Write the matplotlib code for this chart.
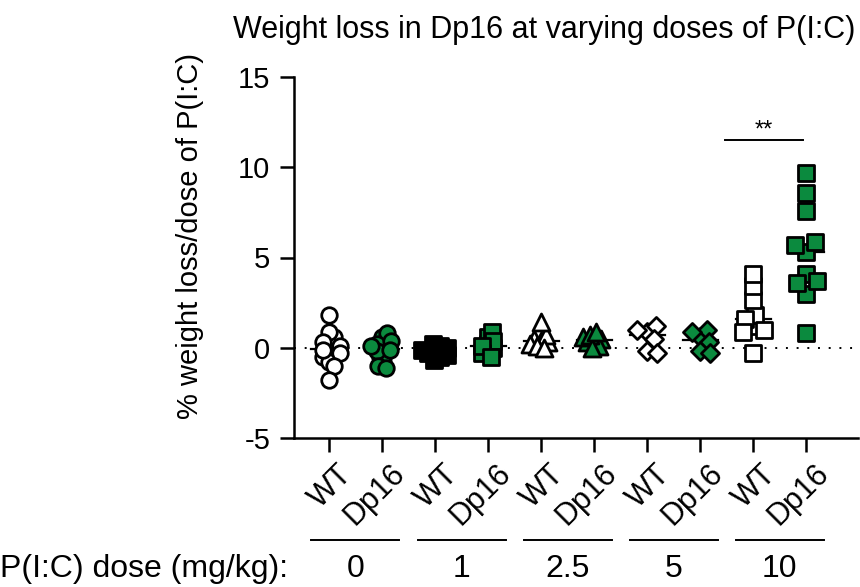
import numpy as np
import matplotlib
matplotlib.use("Agg")
import matplotlib.pyplot as plt
import matplotlib.transforms as mtransforms

plt.rcParams['font.family'] = ['Liberation Sans', 'DejaVu Sans']

# ---------------- data ----------------
groups = ["WT", "Dp16", "WT", "Dp16", "WT", "Dp16", "WT", "Dp16", "WT", "Dp16"]
doses = ["0", "1", "2.5", "5", "10"]

wt_0 = [0.0, 0.2, -0.2, 0.4, -0.4, 0.6, -0.5, 0.9, -0.8, 0.3, -0.1, 0.1, -0.3, -1.0, 1.8, -1.8]
dp16_0 = [0.0, 0.3, -0.3, 0.6, -0.5, 0.8, -0.8, 0.2, -0.2, 0.4, -1.0, 0.1, -0.1, -1.1]
wt_1 = [-0.2, 0.1, -0.5, 0.2, -0.3, 0.0, -0.7, -0.1, -0.4]
dp16_1 = [0.2, 0.6, -0.2, 0.85, 0.0, 0.4, -0.3, 0.1, -0.5]
wt_25 = [0.4, 0.3, 0.5, 0.2, 0.7, 0.1, 0.0, 1.4]
dp16_25 = [0.4, 0.5, 0.3, 0.6, 0.1, 0.7, 0.0, 0.9]
wt_5 = [0.9, 1.2, 0.5, 1.0, -0.2, -0.3]
dp16_5 = [0.6, 1.0, 0.3, 0.9, -0.2, -0.3]
wt_10 = [1.2, 1.8, 1.0, 1.6, 0.9, 2.65, 3.4, 4.1, -0.3]
dp16_10 = [9.7, 8.55, 7.6, 5.3, 5.85, 5.7, 4.1, 3.0, 3.7, 3.6, 0.8]

series = [wt_0, dp16_0, wt_1, dp16_1, wt_25, dp16_25, wt_5, dp16_5, wt_10, dp16_10]
markers = ['o', 'o', 's', 's', '^', '^', 'D', 'D', 's', 's']
sizes = [125, 125, 120, 120, 150, 150, 85, 85, 120, 120]
spread = [6, 6, 7, 6, 7, 7, 10, 10, 11, 13]

GREEN = '#0B8A3E'

# ---------------- figure ----------------
fig = plt.figure(figsize=(8.6, 5.87), dpi=100)
W, H = 860, 587
L, R, T, B = 294, 858, 77, 438
ax = fig.add_axes([L / W, 1 - B / H, (R - L) / W, (B - T) / H])
ax.set_xlim(-0.66, 9.98)
ax.set_ylim(-5, 15)

px_x = (R - L) / 10.64
px_y = (B - T) / 20.0


def swarm(vals, d):
    placed = []
    offs = []
    for v in vals:
        y = v * px_y
        chosen = 0.0
        for k in range(0, 400):
            cands = [0.0] if k == 0 else [k * 0.5, -k * 0.5]
            found = False
            for xo in cands:
                if all((xo - a) ** 2 + (y - b) ** 2 >= d * d for a, b in placed):
                    chosen = xo
                    found = True
                    break
            if found:
                break
        placed.append((chosen, y))
        offs.append(chosen / px_x)
    return np.array(offs)


ax.axhline(0, color='black', lw=1.4, ls=(0, (1, 4.5)), zorder=1)

for i, vals in enumerate(series):
    vals = np.array(vals)
    xo = swarm(vals, spread[i])
    if i == 2:
        fc = 'black'
    elif i % 2 == 0:
        fc = 'white'
    else:
        fc = GREEN
    ax.plot([i - 0.33, i + 0.33], [np.median(vals)] * 2, color='black', lw=1.6, zorder=2)
    ax.scatter(i + xo, vals, s=sizes[i], marker=markers[i], facecolor=fc,
               edgecolor='black', linewidths=2.0, zorder=3)

# significance
ax.plot([7.47, 8.94], [11.5, 11.5], color='black', lw=1.4)
ax.text(8.2, 11.45, "**", ha='center', va='bottom', fontsize=17)

# axes styling
for s in ['top', 'right']:
    ax.spines[s].set_visible(False)
for s in ['left', 'bottom']:
    ax.spines[s].set_linewidth(1.8)
ax.set_yticks([-5, 0, 5, 10, 15])
ax.set_yticklabels(["-5", "0", "5", "10", "15"], fontsize=21)
ax.tick_params(axis='both', length=10, width=1.8)
ax.tick_params(axis='y', pad=7)
ax.set_xticks(np.arange(len(groups)))
ax.set_xticklabels(groups, fontsize=22, rotation=45, ha='right', rotation_mode='anchor')
off = mtransforms.ScaledTranslation(8 / 100, -2 / 100, fig.dpi_scale_trans)
for lab in ax.get_xticklabels():
    lab.set_transform(lab.get_transform() + off)

fig.text(544 / W, 1 - 30 / H, "Weight loss in Dp16 at varying doses of P(I:C)",
         ha='center', va='center', fontsize=22)
fig.text(190 / W, 1 - 236 / H, "% weight loss/dose of P(I:C)", rotation=90,
         ha='center', va='center', fontsize=21)

# dose group annotation
bt = mtransforms.blended_transform_factory(ax.transData, fig.transFigure)
for j, d in enumerate(doses):
    c = 2 * j + 0.5
    ax.plot([c - 0.83, c + 0.83], [1 - 540 / H] * 2, color='black', lw=1.4,
            transform=bt, clip_on=False)
    ax.text(c, 1 - 569 / H, d, transform=bt, ha='center', va='center', fontsize=23)
fig.text(0 / W, 1 - 569 / H, "P(I:C) dose (mg/kg):", ha='left', va='center', fontsize=23)

fig.savefig("out.png", dpi=100)
